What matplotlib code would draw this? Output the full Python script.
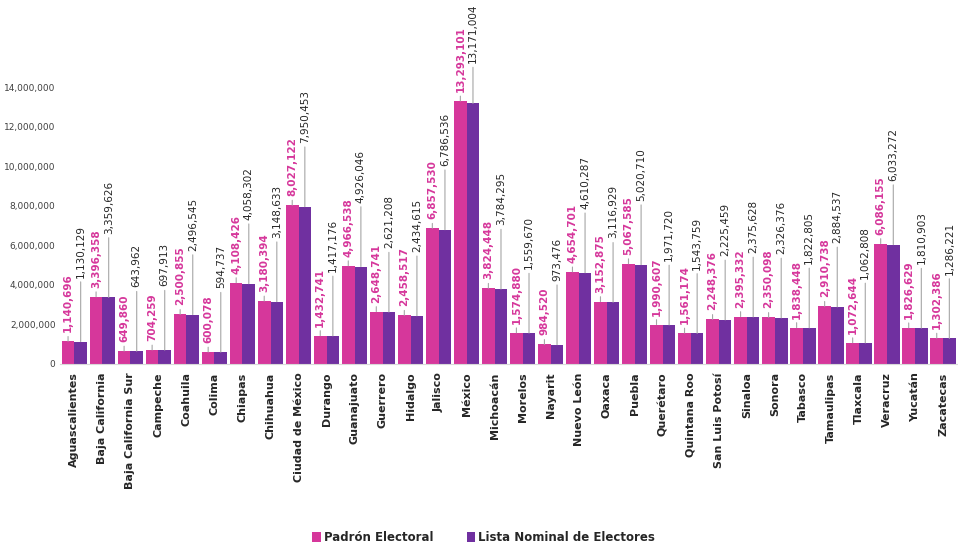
import numpy as np
import matplotlib.pyplot as plt

# Padrón electoral y lista nominal por entidad
estados = ['Aguascalientes', 'Baja California', 'Baja California Sur', 'Campeche',
           'Coahuila', 'Colima', 'Chiapas', 'Chihuahua', 'Ciudad de México',
           'Durango', 'Guanajuato', 'Guerrero', 'Hidalgo', 'Jalisco', 'México',
           'Michoacán', 'Morelos', 'Nayarit', 'Nuevo León', 'Oaxaca', 'Puebla',
           'Querétaro', 'Quintana Roo', 'San Luis Potosí', 'Sinaloa', 'Sonora',
           'Tabasco', 'Tamaulipas', 'Tlaxcala', 'Veracruz', 'Yucatán', 'Zacatecas']

padron = [1140696, 3396358, 649860, 704259, 2500855, 600078, 4108426, 3180394,
          8027122, 1432741, 4966538, 2648741, 2458517, 6857530, 13293101,
          3824448, 1574880, 984520, 4654701, 3152875, 5067585, 1990607,
          1561174, 2248376, 2395332, 2350098, 1838448, 2910738, 1072644,
          6086155, 1826629, 1302386]

lista = [1130129, 3359626, 643962, 697913, 2496545, 594737, 4058302, 3148633,
         7950453, 1417176, 4926046, 2621208, 2434615, 6786536, 13171004,
         3784295, 1559670, 973476, 4610287, 3116929, 5020710, 1971720,
         1543759, 2225459, 2375628, 2326376, 1822805, 2884537, 1062808,
         6033272, 1810903, 1286221]

rosa = '#D6379B'
morado = '#7030A0'
gris = '#A6A6A6'

fig = plt.figure(figsize=(9.58, 5.44), dpi=100)
ax = fig.add_axes([0.063, 0.331, 0.936, 0.669])

x = np.arange(len(estados))
w = 0.45
ax.bar(x - w / 2, padron, w, color=rosa, label='Padrón Electoral')
ax.bar(x + w / 2, lista, w, color=morado, label='Lista Nominal de Electores')

for i in range(len(estados)):
    ax.annotate(f'{padron[i]:,}', xy=(x[i] - w / 2, padron[i]), xytext=(0, 6.5),
                textcoords='offset points', rotation=90, ha='center', va='bottom',
                fontsize=7.5, fontweight='bold', color=rosa, annotation_clip=False,
                arrowprops=dict(arrowstyle='-', color=gris, lw=0.8,
                                shrinkA=1, shrinkB=0))
    # la etiqueta más alta se acerca a la barra para que no se salga
    off = 29 if lista[i] > 12e6 else 46
    ax.annotate(f'{lista[i]:,}', xy=(x[i] + w / 2, lista[i]), xytext=(0, off),
                textcoords='offset points', rotation=90, ha='center', va='bottom',
                fontsize=7.5, color='#262626', annotation_clip=False,
                arrowprops=dict(arrowstyle='-', color=gris, lw=0.8,
                                shrinkA=1, shrinkB=0))

ax.set_xlim(-0.5, len(estados) - 0.5)
ax.set_ylim(0, 18.4e6)
ax.set_yticks(np.arange(0, 14.1e6, 2e6))
ax.set_yticklabels([f'{int(v):,}' for v in np.arange(0, 14.1e6, 2e6)],
                   fontsize=6.5, color='#404040')
ax.set_xticks(x)
ax.set_xticklabels(estados, rotation=90, fontsize=8, fontweight='bold', color='#262626')
ax.tick_params(axis='both', length=0)
ax.tick_params(axis='x', pad=6)
for s in ['top', 'right', 'left']:
    ax.spines[s].set_visible(False)
ax.spines['bottom'].set_color('#D9D9D9')

fig.legend(loc='lower center', bbox_to_anchor=(0.505, -0.02), ncol=2, frameon=False,
           handlelength=0.7, handleheight=1.0, handletextpad=0.3,
           columnspacing=2.8, labelcolor='#262626',
           prop={'weight': 'bold', 'size': 8.5})

fig.savefig('out.png', dpi=100)
